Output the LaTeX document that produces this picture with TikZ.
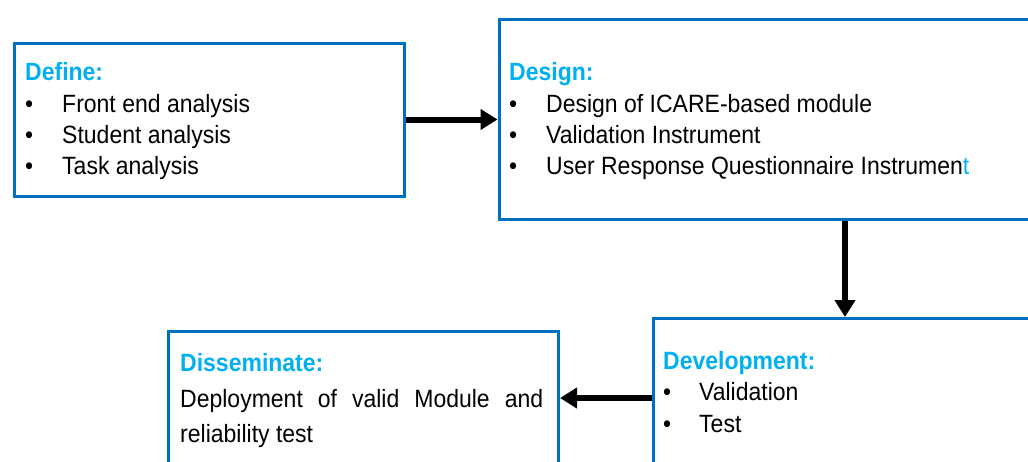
\documentclass[tikz,border=0pt]{standalone}
\usepackage{fontspec}
\setmainfont{Liberation Sans}[FakeStretch=0.92]
\usetikzlibrary{arrows.meta}
\definecolor{boxblue}{HTML}{0070C0}
\definecolor{headcyan}{HTML}{00B0F0}
\newcommand{\diagfont}{\fontsize{25pt}{35pt}\selectfont}
\tikzset{
  box/.style={draw=boxblue, line width=3pt, rectangle, inner sep=0pt, anchor=north west},
  head/.style={anchor=base west, inner sep=0pt, font=\diagfont\bfseries, text=headcyan},
  item/.style={anchor=base west, inner sep=0pt, font=\diagfont},
  flow/.style={line width=6pt, -{Triangle[length=17pt,width=20pt]}}
}
\begin{document}
\begin{tikzpicture}[x=1pt,y=-1pt,font=\diagfont]
\useasboundingbox (0,0) rectangle (1028,461);
\clip (0,0) rectangle (1028,461);
% boxes
\node[box, minimum width=390.5pt, minimum height=153pt] (define) at (12.5,41.5) {};
\node[box, minimum width=542.5pt, minimum height=200pt] (design) at (497.5,17.5) {};
\node[box, minimum width=400pt, minimum height=160pt] (development) at (651.5,317) {};
\node[box, minimum width=390pt, minimum height=145pt] (disseminate) at (167,330) {};
% Define
\node[head] (defh) at (25,80) {Define:};
\node[item] (defb1) at (25,112) {•};
\node[item] (deft1) at (62,112) {Front end analysis};
\node[item] (defb2) at (25,143) {•};
\node[item] (deft2) at (62,143) {Student analysis};
\node[item] (defb3) at (25,174) {•};
\node[item] (deft3) at (62,174) {Task analysis};
% Design
\node[head] (desh) at (509,80) {Design:};
\node[item] (desb1) at (509,112) {•};
\node[item] (dest1) at (546,112) {Design of ICARE-based module};
\node[item] (desb2) at (509,143) {•};
\node[item] (dest2) at (546,143) {Validation Instrument};
\node[item] (desb3) at (509,174) {•};
\node[item] (dest3) at (546,174) {User Response Questionnaire Instrumen\textcolor{headcyan}{t}};
% Development
\node[head] (devh) at (663,369) {Development:};
\node[item] (devb1) at (663,400) {•};
\node[item] (devt1) at (699,400) {Validation};
\node[item] (devb2) at (663,432) {•};
\node[item] (devt2) at (699,432) {Test};
% Disseminate
\node[head] (dish) at (180,371) {Disseminate:};
\node[anchor=north west, inner sep=0pt, text width=363pt, align=justify, font=\diagfont] (dist) at (180,389)
  {Deployment of valid Module and\linebreak reliability test};
% connectors
\coordinate (dx) at (845,0);
\coordinate (dy) at (0,398);
\draw[flow] (define.east) -- (define.east -| design.west);
\draw[flow] (design.south -| dx) -- (development.north -| dx);
\draw[flow] (development.west |- dy) -- (disseminate.east |- dy);
\end{tikzpicture}
\end{document}
